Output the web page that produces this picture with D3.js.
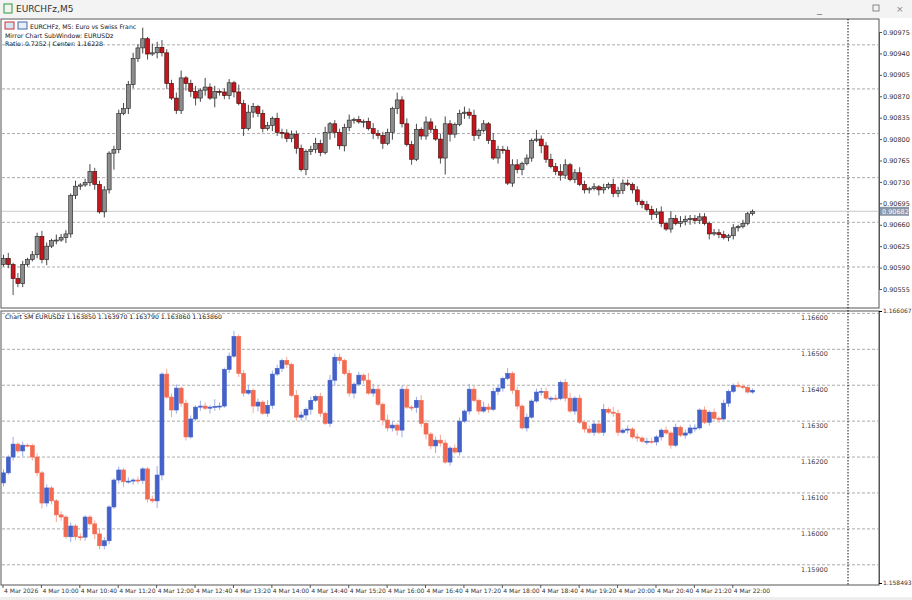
<!DOCTYPE html>
<html><head><meta charset="utf-8">
<script src="https://cdn.jsdelivr.net/npm/d3@7"></script>
<style>
body{margin:0;background:#fff;font-family:"DejaVu Sans",sans-serif}
text{font-family:"DejaVu Sans",sans-serif}
</style></head><body>
<script>
// EURCHF M5 closes (in 0.00001 units), 9:20 onward
const eurchfOpen0 = 90595;
const eurchfClose = [90605,90595,90572,90564,90595,90603,90611,90641,90603,90625,90634,90635,90639,90645,90708,90723,90725,90729,90747,90726,
  90681,90717,90777,90783,90842,90850,90889,90932,90949,90964,90939,90941,90950,90941,90891,90867,90847,90900,90891,90878,
  90867,90880,90885,90867,90878,90877,90871,90892,90877,90858,90817,90844,90853,90842,90817,90822,90834,90811,90810,90801,
  90808,90785,90750,90780,90783,90793,90778,90811,90825,90811,90789,90819,90831,90832,90828,90829,90817,90809,90806,
  90793,90811,90850,90864,90825,90791,90767,90816,90805,90828,90816,90800,90769,90825,90808,90824,90842,90844,90839,90806,
  90814,90825,90798,90769,90783,90782,90728,90758,90750,90760,90769,90798,90800,90789,90767,90755,90747,90741,90758,90734,
  90745,90726,90717,90719,90722,90717,90721,90726,90711,90716,90728,90726,90717,90698,90693,90685,90677,90681,90662,90653,
  90670,90662,90665,90669,90670,90667,90673,90662,90645,90647,90644,90639,90642,90655,90657,90662,90678,90682];
// wick lengths, one digit per candle, 3 points per unit
const eurchfUpWick = "2313212232132213124222122323261534223412315231221424212213222221232312223121232221423231322342123231214222331215223243123212121322212122231423222221222121211";
const eurchfDnWick = "1292211223121322212313292132233132312243423152223141322132322313222143232213132314321312221394213232121321223121421232121221321222122213221212232213121222";

// EURUSD mirror sub-window closes (0.00001 units)
const eurusdOpen0 = 116128;
const eurusdClose = [116156,116200,116236,116217,116233,116232,116200,116156,116072,116114,116078,116039,116033,115978,116008,115978,115977,116033,116014,115986,
  115953,115967,116061,116136,116164,116131,116133,116136,116135,116167,116083,116078,116150,116431,116367,116331,116392,116350,116256,116306,
  116339,116342,116336,116339,116341,116342,116444,116481,116536,116433,116378,116386,116342,116353,116322,116344,116431,116447,116469,116458,
  116372,116311,116317,116333,116358,116369,116322,116294,116414,116478,116469,116433,116378,116403,116428,116414,116378,116389,116347,116303,
  116281,116289,116275,116389,116339,116338,116358,116294,116264,116231,116247,116239,116186,116225,116214,116300,116328,116389,116358,116328,
  116339,116333,116383,116392,116419,116433,116386,116342,116281,116311,116356,116381,116383,116364,116364,116363,116408,116364,116328,116364,
  116297,116278,116269,116292,116269,116333,116325,116322,116269,116275,116278,116256,116253,116244,116244,116242,116256,116275,116267,116233,
  116283,116261,116267,116281,116281,116331,116297,116325,116308,116306,116350,116383,116400,116397,116394,116381,116386];
// wick lengths, 5 points per unit
const eurusdUpWick = "2141211212112121211232112121211251322122132142123123121322121321212132212121432132122123212321221321322213121212221212312122231321212122112121222121212112";
const eurusdDnWick = "2121312232242132221322212312222143142221121322121221431221221223312123212312121322341232324212121212121221221211212112121212121221212121221211212112121211";

const timeTicks = ["4 Mar 2026","4 Mar 10:00","4 Mar 10:40","4 Mar 11:20","4 Mar 12:00","4 Mar 12:40","4 Mar 13:20","4 Mar 14:00","4 Mar 14:40","4 Mar 15:20",
  "4 Mar 16:00","4 Mar 16:40","4 Mar 17:20","4 Mar 18:00","4 Mar 18:40","4 Mar 19:20","4 Mar 20:00","4 Mar 20:40","4 Mar 21:20","4 Mar 22:00"];
const eurchfLabels = [0.90975,0.90940,0.90905,0.90870,0.90835,0.90800,0.90765,0.90730,0.90695,0.90660,0.90625,0.90590,0.90555];
const eurchfGrid = [0.90954,0.90882,0.90809,0.90737,0.90664,0.90591];
const eurusdGrid = [1.166,1.165,1.164,1.163,1.162,1.161,1.160,1.159];
const eurchfLast = 0.90682;

const W = 912, H = 600;
const svg = d3.select("body").append("svg").attr("width", W).attr("height", H);

function candles (open0, closes, up, dn, unit) {
  let o = open0;
  return closes.map((c, i) => {
    const d = {o: o/1e5, c: c/1e5,
      h: (Math.max(o, c) + unit * (+up[i] || 1)) / 1e5,
      l: (Math.min(o, c) - unit * (+dn[i] || 1)) / 1e5};
    o = c;
    return d;
  });
}
const mainBars = candles(eurchfOpen0, eurchfClose, eurchfUpWick, eurchfDnWick, 3);
const subBars = candles(eurusdOpen0, eurusdClose, eurusdUpWick, eurusdDnWick, 5);

const x = d3.scaleLinear().domain([0, eurchfClose.length - 1]).range([3, 752]);
const yTop = d3.scaleLinear().domain([0.90555, 0.90975]).range([289, 32]);
const yBot = d3.scaleLinear().domain([1.158493, 1.166067]).range([583, 311]);
const plotR = 879;

// title bar
svg.append("rect").attr("width", W).attr("height", 18).attr("fill", "#f3f3f3");
svg.append("rect").attr("x", 4).attr("y", 4).attr("width", 8).attr("height", 9).attr("fill", "none").attr("stroke", "#2e9a3a");
svg.append("text").attr("x", 16).attr("y", 12).attr("font-size", 9).attr("fill", "#333").text("EURCHFz,M5");
svg.append("text").attr("x", 817).attr("y", 12).attr("font-size", 10).attr("fill", "#777").text("_");
svg.append("rect").attr("x", 873).attr("y", 5).attr("width", 6).attr("height", 6).attr("fill", "none").attr("stroke", "#888");
svg.append("text").attr("x", 896).attr("y", 12).attr("font-size", 9).attr("fill", "#888").text("×");

// frames
svg.append("rect").attr("x", 1).attr("y", 19).attr("width", plotR - 1).attr("height", 289)
  .attr("fill", "none").attr("stroke", "#555");
svg.append("rect").attr("x", 1).attr("y", 311).attr("width", plotR - 1).attr("height", 274)
  .attr("fill", "none").attr("stroke", "#555");
svg.append("rect").attr("x", 0).attr("y", 597).attr("width", W).attr("height", 3).attr("fill", "#eee");

const dash = "3,2";
svg.selectAll(".gt").data(eurchfGrid).enter().append("line")
  .attr("x1", 2).attr("x2", plotR).attr("y1", d => yTop(d)).attr("y2", d => yTop(d))
  .attr("stroke", "#aaa").attr("stroke-dasharray", dash);
svg.selectAll(".gb").data(eurusdGrid).enter().append("line")
  .attr("x1", 2).attr("x2", plotR).attr("y1", d => yBot(d)).attr("y2", d => yBot(d))
  .attr("stroke", "#aaa").attr("stroke-dasharray", dash);

// dotted shift line
svg.append("line").attr("x1", 848).attr("x2", 848).attr("y1", 19).attr("y2", 585)
  .attr("stroke", "#111").attr("stroke-dasharray", "1.5,1.5");

// last price line
svg.append("line").attr("x1", 2).attr("x2", plotR).attr("y1", yTop(eurchfLast)).attr("y2", yTop(eurchfLast))
  .attr("stroke", "#c8c8c8");

// top axis
const axT = svg.append("g").attr("transform", `translate(${plotR},0)`)
  .call(d3.axisRight(yTop).tickValues(eurchfLabels).tickSize(3).tickFormat(d3.format(".5f")));
axT.select(".domain").attr("stroke", "#555");
axT.selectAll("text").attr("font-size", 6.5).attr("fill", "#333").attr("x", 4);
axT.selectAll("line").attr("stroke", "#555");
svg.append("rect").attr("x", 880).attr("y", yTop(eurchfLast) - 4.5).attr("width", 29).attr("height", 9).attr("fill", "#8a97a8");
svg.append("text").attr("x", 882).attr("y", yTop(eurchfLast) + 2.5).attr("font-size", 6.5).attr("fill", "#fff")
  .text(eurchfLast.toFixed(5));

// bottom axis (only extremes) and in-plot labels
const axB = svg.append("g").attr("transform", `translate(${plotR},0)`)
  .call(d3.axisRight(yBot).tickValues(yBot.domain()).tickSize(3).tickFormat(d3.format(".6f")));
axB.select(".domain").attr("stroke", "#555");
axB.selectAll("text").attr("font-size", 6).attr("fill", "#333").attr("x", 4);
svg.selectAll(".lb").data(eurusdGrid).enter().append("text")
  .attr("x", 801).attr("y", d => yBot(d) + 7).attr("font-size", 6.5).attr("fill", "#444")
  .text(d => d.toFixed(5));

// time axis
svg.selectAll(".tl").data(timeTicks).enter().append("text")
  .attr("x", (d, i) => x(i * 8) + 1).attr("y", 593).attr("font-size", 6).attr("fill", "#333").text(d => d);
svg.selectAll(".tk").data(timeTicks).enter().append("line")
  .attr("x1", (d, i) => x(i * 8)).attr("x2", (d, i) => x(i * 8)).attr("y1", 585).attr("y2", 588).attr("stroke", "#555");

function drawCandles (data, y, upFill, upStroke, dnFill, dnStroke, wickUp, wickDn) {
  const g = svg.append("g");
  g.selectAll("line").data(data).enter().append("line")
    .attr("x1", (d, i) => x(i) + 0.5).attr("x2", (d, i) => x(i) + 0.5)
    .attr("y1", d => y(d.h)).attr("y2", d => y(d.l))
    .attr("stroke", d => d.c >= d.o ? wickUp : wickDn).attr("stroke-width", 1);
  g.selectAll("rect").data(data).enter().append("rect")
    .attr("x", (d, i) => x(i) - 1.5).attr("width", 4)
    .attr("y", d => y(Math.max(d.o, d.c)))
    .attr("height", d => Math.max(1, Math.abs(y(d.o) - y(d.c))))
    .attr("fill", d => d.c >= d.o ? upFill : dnFill)
    .attr("stroke", d => d.c >= d.o ? upStroke : dnStroke).attr("stroke-width", 0.6);
}
drawCandles(mainBars, yTop, "#8c8c8c", "#222", "#c4161c", "#3a0a0a", "#444", "#555");
drawCandles(subBars, yBot, "#4461c8", "#4461c8", "#f26a50", "#f26a50", "#9aaee8", "#f6a898");

// header texts
svg.append("rect").attr("x", 5).attr("y", 22).attr("width", 9).attr("height", 7).attr("fill", "#d8e4f4").attr("stroke", "#c33");
svg.append("rect").attr("x", 18).attr("y", 22).attr("width", 9).attr("height", 7).attr("fill", "#e8eef8").attr("stroke", "#46a");
svg.append("text").attr("x", 30).attr("y", 29).attr("font-size", 6.2).attr("fill", "#111").text("EURCHFz, M5:  Euro vs Swiss Franc");
svg.append("text").attr("x", 5).attr("y", 38).attr("font-size", 6.2).attr("fill", "#111").text("Mirror Chart SubWindow: EURUSDz");
svg.append("text").attr("x", 5).attr("y", 46).attr("font-size", 6.2).attr("fill", "#111").text("Ratio: 0.7252 | Center: 1.16228");
svg.append("text").attr("x", 5).attr("y", 319).attr("font-size", 6.2).attr("fill", "#111")
  .text("Chart SM EURUSDz 1.163850 1.163970 1.163790 1.163860 1.163860");
</script>
</body></html>
